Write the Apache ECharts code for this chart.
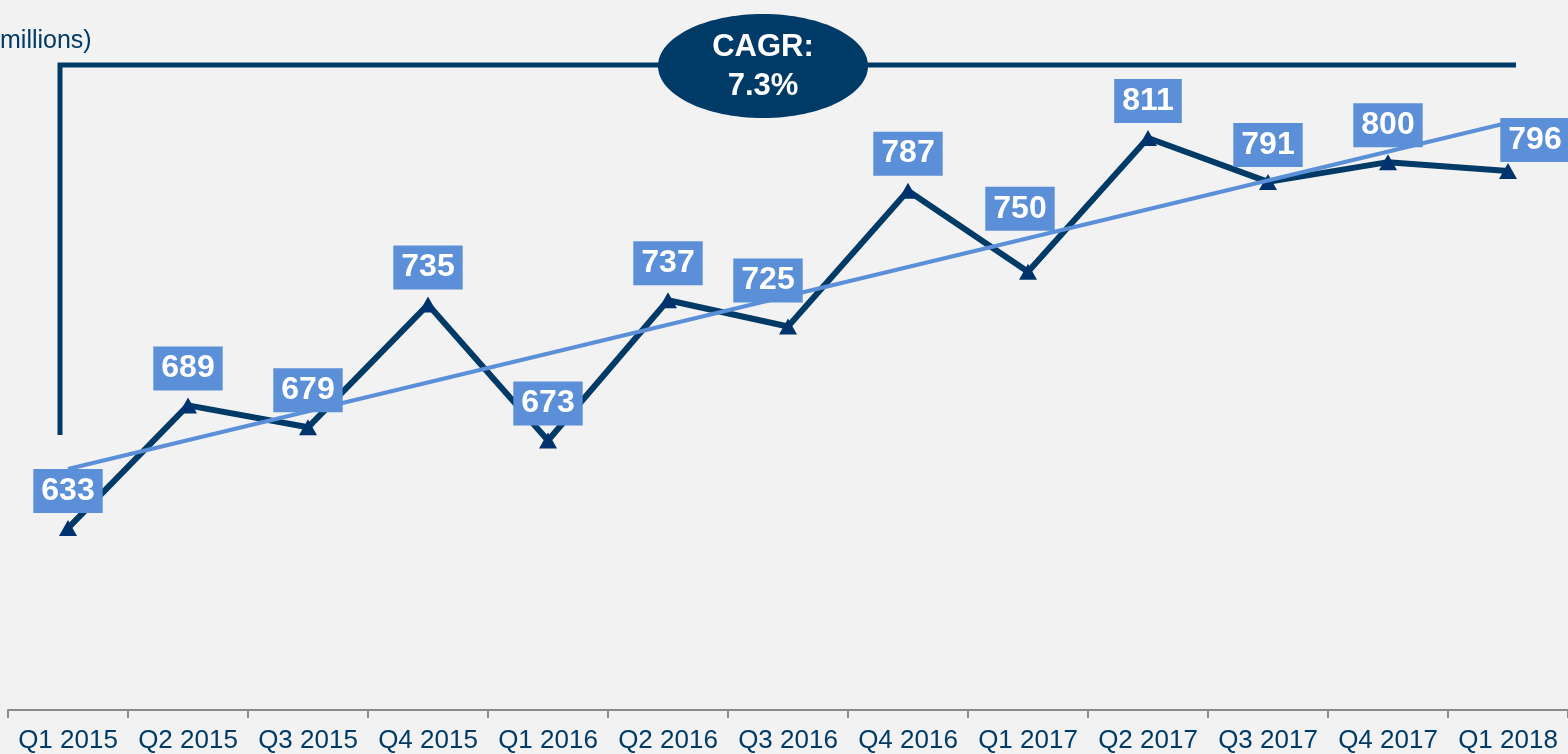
<!DOCTYPE html>
<html>
<head>
<meta charset="utf-8">
<script src="https://cdn.jsdelivr.net/npm/echarts@6/dist/echarts.min.js"></script>
<style>
  html, body { margin: 0; padding: 0; background: #f2f2f2; }
  #chart { width: 1568px; height: 754px; }
</style>
</head>
<body>
<div id="chart"></div>
<script>
// quarters on the x axis
const quarters = ["Q1 2015", "Q2 2015", "Q3 2015", "Q4 2015", "Q1 2016", "Q2 2016", "Q3 2016",
  "Q4 2016", "Q1 2017", "Q2 2017", "Q3 2017", "Q4 2017", "Q1 2018"];
// quarterly values (millions)
const values = [633, 689, 679, 735, 673, 737, 725, 787, 750, 811, 791, 800, 796];
// trend line end points
const trendEnds = [660, 818];

const navy = "#003a66";
const lightBlue = "#5b8fd7";

// a few labels sit away from the default spot
const labelOffsets = { 6: [-20, -46], 8: [-8, -63], 12: [27, -31] };

let chart = echarts.init(document.getElementById("chart"));

const mainData = values.map((v, i) => {
  let item = { value: v };
  if (labelOffsets[i]) item.label = { offset: labelOffsets[i] };
  return item;
});

const trendData = quarters.map((q, i) => {
  if (i === 0) return trendEnds[0];
  if (i === quarters.length - 1) return trendEnds[1];
  return null;
});

chart.setOption({
  backgroundColor: "#f2f2f2",
  animation: false,
  grid: {
    left: 8,
    width: 1565,
    top: 0,
    bottom: 42,
  },
  xAxis: {
    type: "category",
    data: quarters,
    boundaryGap: true,
    axisLine: { lineStyle: { color: "#8c8c8c", width: 2 } },
    axisTick: { show: true, length: 8, lineStyle: { color: "#8c8c8c", width: 2 } },
    axisLabel: {
      color: navy,
      fontFamily: "Liberation Sans",
      fontSize: 26,
      margin: 18,
      interval: 0,
    },
  },
  yAxis: {
    type: "value",
    min: 550,
    max: 874,
    show: false,
    splitLine: { show: false },
  },
  series: [
    {
      type: "line",
      data: mainData,
      symbol: "triangle",
      symbolSize: [18, 16],
      itemStyle: { color: "#00336e" },
      lineStyle: { color: navy, width: 6 },
      z: 2,
      label: {
        show: true,
        position: "inside",
        offset: [0, -37],
        color: "#fff",
        fontFamily: "Liberation Sans",
        fontWeight: "bold",
        fontSize: 32,
        backgroundColor: lightBlue,
        padding: [5, 8, 3, 8],
        lineHeight: 36,
      },
    },
    {
      type: "line",
      data: trendData,
      connectNulls: true,
      symbol: "none",
      lineStyle: { color: lightBlue, width: 4 },
      z: 3,
    },
  ],
  graphic: [
    {
      type: "text",
      left: 0,
      top: 29,
      style: {
        text: "millions)",
        fill: navy,
        fontFamily: "Liberation Sans",
        fontSize: 25,
      },
    },
    {
      type: "polyline",
      shape: { points: [[60, 435], [60, 65], [1516, 65]] },
      style: { stroke: navy, lineWidth: 5, fill: null },
    },
    {
      type: "ellipse",
      shape: { cx: 763, cy: 66, rx: 105, ry: 52 },
      style: { fill: navy },
    },
    {
      type: "text",
      x: 763,
      y: 67,
      style: {
        text: "CAGR:\n7.3%",
        fill: "#fff",
        fontFamily: "Liberation Sans",
        fontWeight: "bold",
        fontSize: 31,
        align: "center",
        verticalAlign: "middle",
        lineHeight: 39,
      },
    },
  ],
});
</script>
</body>
</html>
